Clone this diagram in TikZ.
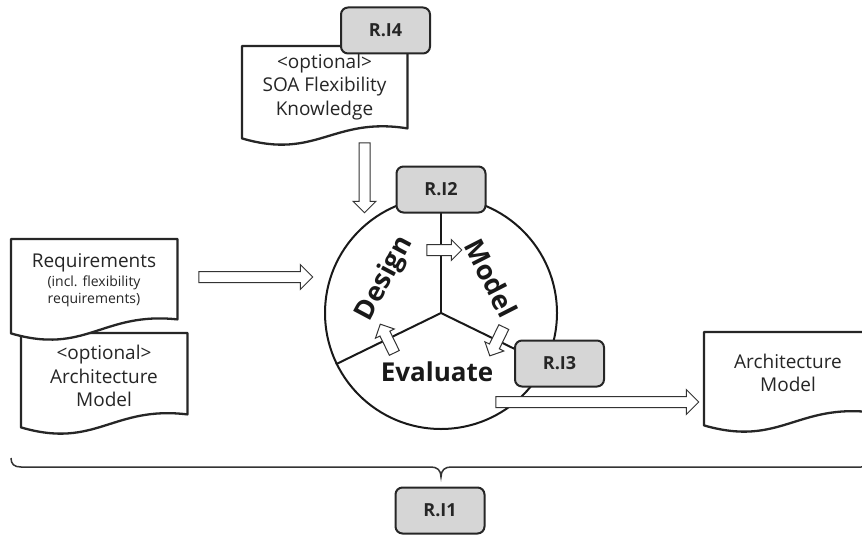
\documentclass[tikz,border=0pt]{standalone}
\usepackage{fontspec}
\setmainfont{Open Sans}
\usetikzlibrary{shapes.arrows,calc}

% document outline: straight top and sides, wavy bottom whose right end sits #2 higher
\newcommand\docoutline[2]{%
  \draw[docline] (#1.south west) -- (#1.north west) -- (#1.north east)
    -- ($(#1.south east)+(0,-#2)$)
    .. controls ($(#1.south west)!0.55!(#1.south east)+(0,-22)$)
           and ($(#1.south west)!0.45!(#1.south east)+(0,22)$) .. (#1.south west) -- cycle;}

\tikzset{
  docline/.style={draw=black!85, line width=2.3pt, fill=white, line join=round},
  docarea/.style={draw=none, inner sep=0pt, anchor=north west},
  doctext/.style={font=\fontsize{19}{23.5}\selectfont, align=center, text=black!85, inner sep=0pt},
  smalltext/.style={font=\fontsize{14}{17}\selectfont, align=center, text=black!85, inner sep=0pt},
  rbox/.style={draw=black!85, fill=black!16, line width=2pt, rounded corners=7pt,
    minimum width=89pt, minimum height=46pt, inner sep=0pt,
    font=\bfseries\fontsize{18}{18}\selectfont, text=black!85},
  barrow/.style={single arrow, draw=black!80, fill=white, line width=1pt,
    inner xsep=0pt, inner ysep=5pt, minimum width=0pt,
    single arrow head extend=#1, single arrow head indent=0pt},
  cycline/.style={draw=black!90, line width=2pt},
  phase/.style={font=\bfseries\fontsize{27}{27}\selectfont, text=black!90, inner sep=0pt},
  bracel/.style={draw=black!80, line width=1.5pt}
}

\begin{document}
\begin{tikzpicture}[x=1pt, y=-1pt]
\useasboundingbox (0,0) rectangle (862,535);
\clip (0,0) rectangle (862,535);

% input and output documents
\node[docarea, minimum width=165pt, minimum height=92pt] (soa) at (242,46) {};
\docoutline{soa}{10}
\node[doctext] (soatext) at (324.5,87) {<optional>\\SOA Flexibility\\Knowledge};

\node[docarea, minimum width=166pt, minimum height=94pt] (oldarch) at (21,333) {};
\docoutline{oldarch}{13}
\node[doctext] (oldarchtext) at (104,376) {<optional>\\Architecture\\Model};

\node[docarea, minimum width=166pt, minimum height=94pt] (req) at (11,239) {};
\docoutline{req}{14}
\node[doctext] (reqtext) at (94,263) {Requirements};
\node[smalltext] (reqsub) at (94,291) {(incl. flexibility\\requirements)};

\node[docarea, minimum width=168pt, minimum height=93pt] (arch) at (704,332) {};
\docoutline{arch}{13}
\node[doctext] (archtext) at (788,373) {Architecture\\Model};

% design cycle
\node[cycline, circle, minimum size=232pt, inner sep=0pt] (cyc) at (441,313) {};
\draw[cycline] (cyc.center) -- (cyc.90);
\draw[cycline] (cyc.center) -- (cyc.-26);
\draw[cycline] (cyc.center) -- (cyc.206);

% block arrows
\node[barrow=7pt, minimum height=114pt] (inreq) at (253,277) {};
\node[barrow=6pt, minimum height=70pt, rotate=-90] (insoa) at (364.5,175) {};
\node[barrow=7pt, minimum height=203pt] (outarch) at (594.5,402) {};
\node[barrow=5pt, minimum height=35pt] (dm) at (441.5,250) {};
\node[barrow=5pt, minimum height=32pt, rotate=-116] (me) at (498,339) {};
\node[barrow=5pt, minimum height=32pt, rotate=116] (ed) at (388.5,341) {};

% phase labels
\node[phase, rotate=62] (design) at (385,279) {Design};
\node[phase, rotate=-63] (model) at (491,278) {Model};
\node[phase, font=\bfseries\fontsize{26}{26}\selectfont] (evaluate) at (437,372) {Evaluate};

% requirement boxes
\node[rbox] (ri4) at (385.5,30.5) {R.I4};
\node[rbox] (ri2) at (441,189.5) {R.I2};
\node[rbox] (ri3) at (559.5,363.5) {R.I3};
\node[rbox] (ri1) at (440,510.5) {R.I1};

% brace spanning the whole process
\coordinate (bl) at (11,458);
\coordinate (btip) at (441,477);
\coordinate (br) at (871,458);
\draw[bracel] (bl) .. controls (11,464) and (14,467) .. (21,467) -- (431,467)
  .. controls (437,467) and (441,470) .. (btip)
  .. controls (441,470) and (445,467) .. (451,467) -- (861,467)
  .. controls (868,467) and (871,464) .. (br);
\end{tikzpicture}
\end{document}
